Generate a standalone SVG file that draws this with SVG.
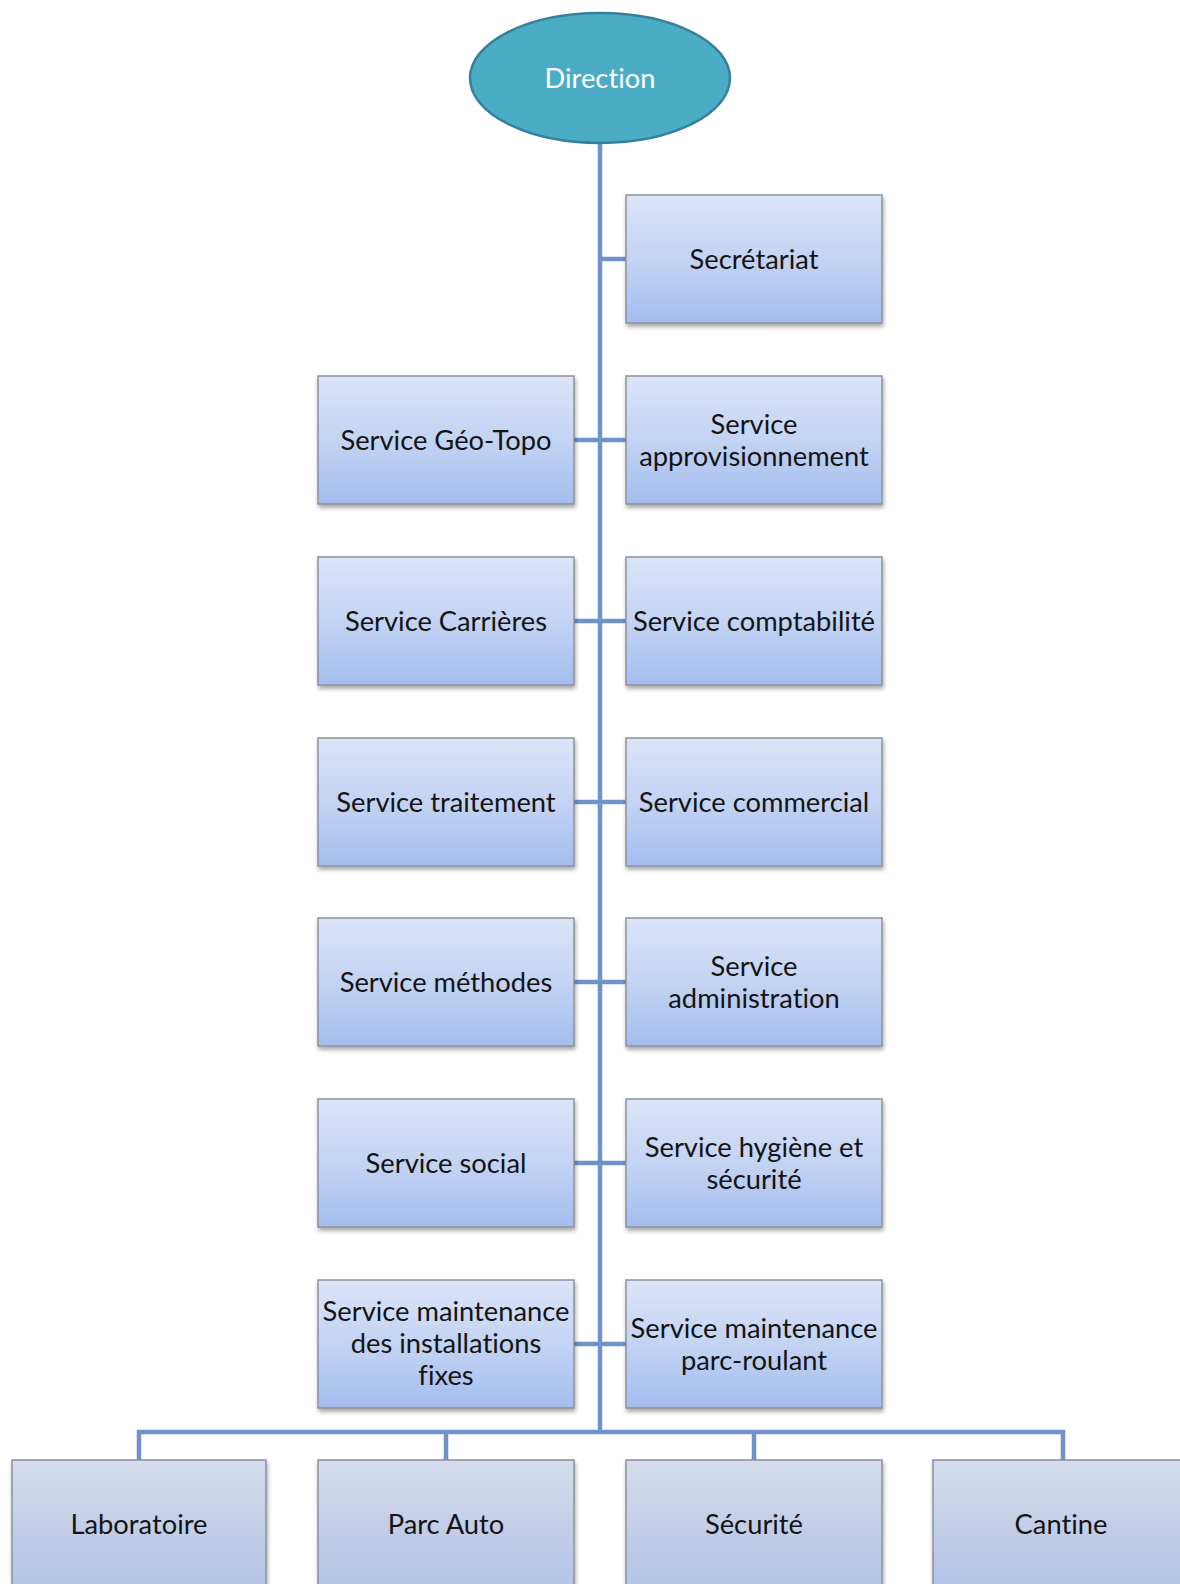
<svg xmlns="http://www.w3.org/2000/svg" width="1180" height="1584" viewBox="0 0 1180 1584">
<defs>
<linearGradient id="g" x1="0" y1="0" x2="0" y2="1">
<stop offset="0" stop-color="#dce5f8"/>
<stop offset="0.5" stop-color="#c3d3f3"/>
<stop offset="1" stop-color="#a4bdee"/>
</linearGradient>
<linearGradient id="g2" x1="0" y1="0" x2="0" y2="1">
<stop offset="0" stop-color="#d6dcec"/>
<stop offset="0.5" stop-color="#c2cde6"/>
<stop offset="1" stop-color="#afc3e8"/>
</linearGradient>
<filter id="sh" x="-5%" y="-5%" width="112%" height="115%">
<feGaussianBlur in="SourceAlpha" stdDeviation="2"/>
<feOffset dx="1" dy="3" result="b"/>
<feComponentTransfer><feFuncA type="linear" slope="0.35"/></feComponentTransfer>
<feMerge><feMergeNode/><feMergeNode in="SourceGraphic"/></feMerge>
</filter>
</defs>
<style>
.box{fill:url(#g);stroke:#8c919b;stroke-width:1.5;filter:url(#sh)}
.box2{fill:url(#g2);stroke:#8c919b;stroke-width:1.5;filter:url(#sh)}
.t{font-family:Lato,"Open Sans","Liberation Sans",sans-serif;font-size:27.3px;fill:#141414;text-anchor:middle;dominant-baseline:central;font-variant-ligatures:none;font-feature-settings:"liga" 0}
.w{fill:#ffffff}
.c{stroke:#6f93c9;stroke-width:4.5;fill:none}
</style>
<g id="connectors">
<path class="c" d="M600 143 V1432"/>
<path class="c" d="M600 259 H626"/>
<path class="c" d="M574 440 H626"/>
<path class="c" d="M574 621 H626"/>
<path class="c" d="M574 802 H626"/>
<path class="c" d="M574 982 H626"/>
<path class="c" d="M574 1163 H626"/>
<path class="c" d="M574 1344 H626"/>
<path class="c" d="M139 1460 V1432 H1063 V1460"/>
<path class="c" d="M446 1432 V1460"/>
<path class="c" d="M754 1432 V1460"/>
</g>
<g id="direction">
<ellipse cx="600" cy="78" rx="130" ry="65" fill="#4bacc6" stroke="#37809a" stroke-width="2.5"/>
<text class="t w" x="600" y="77">Direction</text>
</g>
<g id="secretariat">
<rect class="box" x="626" y="195" width="256" height="128"/>
<text class="t" x="754" y="258">Secrétariat</text>
</g>
<g id="geo-topo">
<rect class="box" x="318" y="376" width="256" height="128"/>
<text class="t" x="446" y="439">Service Géo-Topo</text>
</g>
<g id="approvisionnement">
<rect class="box" x="626" y="376" width="256" height="128"/>
<text class="t" x="754" y="423">Service</text>
<text class="t" x="754" y="455">approvisionnement</text>
</g>
<g id="carrieres">
<rect class="box" x="318" y="557" width="256" height="128"/>
<text class="t" x="446" y="620">Service Carrières</text>
</g>
<g id="comptabilite">
<rect class="box" x="626" y="557" width="256" height="128"/>
<text class="t" x="754" y="620">Service comptabilité</text>
</g>
<g id="traitement">
<rect class="box" x="318" y="738" width="256" height="128"/>
<text class="t" x="446" y="801">Service traitement</text>
</g>
<g id="commercial">
<rect class="box" x="626" y="738" width="256" height="128"/>
<text class="t" x="754" y="801">Service commercial</text>
</g>
<g id="methodes">
<rect class="box" x="318" y="918" width="256" height="128"/>
<text class="t" x="446" y="981">Service méthodes</text>
</g>
<g id="administration">
<rect class="box" x="626" y="918" width="256" height="128"/>
<text class="t" x="754" y="965">Service</text>
<text class="t" x="754" y="997">administration</text>
</g>
<g id="social">
<rect class="box" x="318" y="1099" width="256" height="128"/>
<text class="t" x="446" y="1162">Service social</text>
</g>
<g id="hygiene">
<rect class="box" x="626" y="1099" width="256" height="128"/>
<text class="t" x="754" y="1146">Service hygiène et</text>
<text class="t" x="754" y="1178">sécurité</text>
</g>
<g id="maint-fixes">
<rect class="box" x="318" y="1280" width="256" height="128"/>
<text class="t" x="446" y="1310">Service maintenance</text>
<text class="t" x="446" y="1342">des installations</text>
<text class="t" x="446" y="1374">fixes</text>
</g>
<g id="maint-parc">
<rect class="box" x="626" y="1280" width="256" height="128"/>
<text class="t" x="754" y="1327">Service maintenance</text>
<text class="t" x="754" y="1359">parc-roulant</text>
</g>
<g id="laboratoire">
<rect class="box2" x="12" y="1460" width="254" height="140"/>
<text class="t" x="139" y="1523">Laboratoire</text>
</g>
<g id="parc-auto">
<rect class="box2" x="318" y="1460" width="256" height="140"/>
<text class="t" x="446" y="1523">Parc Auto</text>
</g>
<g id="securite">
<rect class="box2" x="626" y="1460" width="256" height="140"/>
<text class="t" x="754" y="1523">Sécurité</text>
</g>
<g id="cantine">
<rect class="box2" x="933" y="1460" width="256" height="140"/>
<text class="t" x="1061" y="1523">Cantine</text>
</g>
</svg>
